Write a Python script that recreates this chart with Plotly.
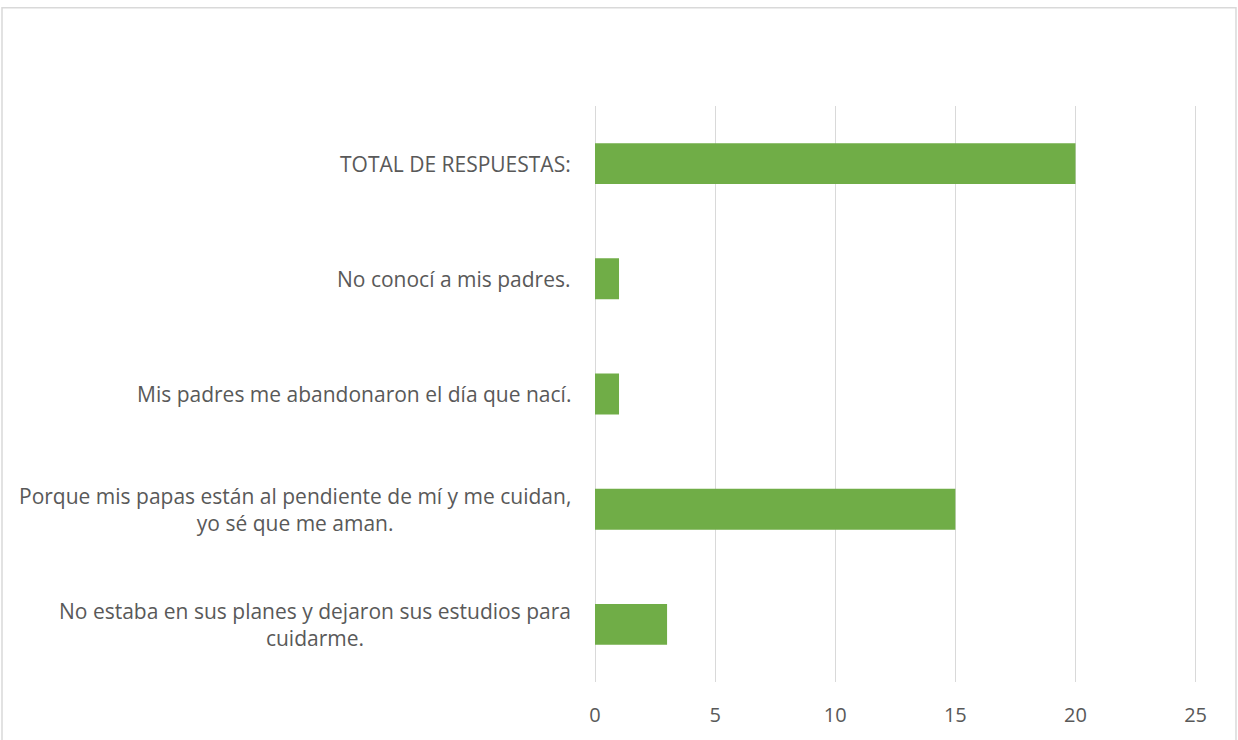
import plotly.graph_objects as go

categories = [
    "No estaba en sus planes y dejaron sus estudios para<br>cuidarme.",
    "Porque mis papas están al pendiente de mí y me cuidan,<br>yo sé que me aman.",
    "Mis padres me abandonaron el día que nací.",
    "No conocí a mis padres.",
    "TOTAL DE RESPUESTAS:",
]
values = [3, 15, 1, 1, 20]
x_ticks = [0, 5, 10, 15, 20, 25]

TEXT = "#595959"
FONT = "Open Sans"

fig = go.Figure(
    go.Bar(
        x=values,
        y=categories,
        orientation="h",
        marker=dict(color="#70ad47", line=dict(width=0)),
        hoverinfo="x+y",
    )
)

# Category labels as centred, right-anchored text blocks beside the axis
annotations = [
    dict(
        x=0, xref="paper", xanchor="right", xshift=-22,
        y=c, yref="y", yanchor="middle",
        text=c, showarrow=False, align="center",
        font=dict(family=FONT, size=21, color=TEXT),
    )
    for c in categories
]

fig.update_layout(
    width=1238,
    height=740,
    margin=dict(l=595, r=40, t=106, b=54),
    paper_bgcolor="white",
    plot_bgcolor="white",
    bargap=0.645,
    showlegend=False,
    annotations=annotations,
    font=dict(family=FONT, color=TEXT),
    xaxis=dict(
        range=[0, 25.1],
        tickvals=x_ticks,
        showgrid=True,
        gridcolor="#d9d9d9",
        gridwidth=1,
        zeroline=True,
        zerolinecolor="#d9d9d9",
        zerolinewidth=1,
        showline=False,
        ticks="",
        tickfont=dict(family=FONT, size=20, color=TEXT),
        ticklabelstandoff=19,
    ),
    yaxis=dict(
        showticklabels=False,
        showgrid=False,
        zeroline=False,
        showline=False,
        ticks="",
    ),
    shapes=[
        dict(
            type="rect", xref="paper", yref="paper",
            x0=-0.9834, x1=1.063, y0=-0.11, y1=1.1707,
            line=dict(color="#d9d9d9", width=1.5),
            fillcolor="rgba(0,0,0,0)", layer="below",
        )
    ],
)

fig.write_html("out.html")
